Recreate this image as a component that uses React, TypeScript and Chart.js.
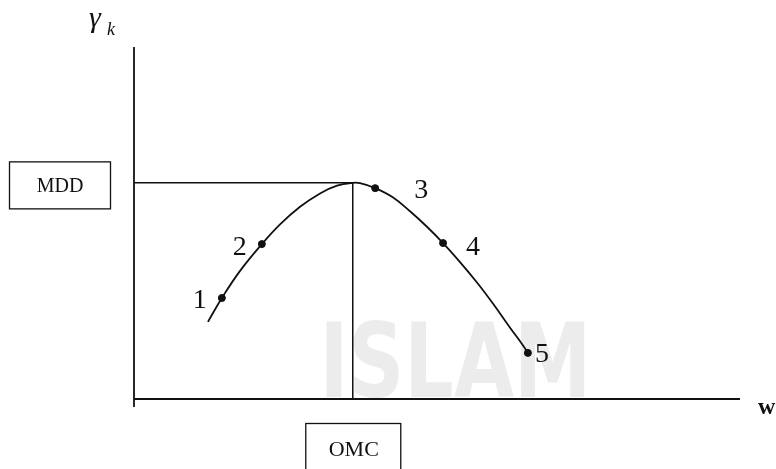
import React, { useEffect, useRef } from "react";
import { Chart, registerables } from "chart.js";

Chart.register(...registerables);

// ---- data (arbitrary units: w on x, dry density on y) ----
const curveW = [12.2, 14.5, 17.5, 21.1, 24.1, 27.4, 30.7, 33.5, 36.1, 37.3, 39.8, 42.7, 45.5, 48.3, 51.0, 53.8, 56.6, 59.2, 62.0, 64.2, 65.0];
const curveGamma = [21.9, 28.7, 36.4, 44.0, 49.6, 54.6, 58.4, 60.6, 61.4, 61.3, 59.9, 57.3, 53.4, 49.0, 44.3, 38.9, 33.1, 27.2, 20.4, 15.2, 13.1];

const sampleLabels = ["1", "2", "3", "4", "5"];
const sampleW = [14.5, 21.1, 39.8, 51.0, 65.0];
const sampleGamma = [28.7, 44.0, 59.9, 44.3, 13.1];

const OMC = 36.1;
const MDD = 61.4;

const X_MIN = 0;
const X_MAX = 100;
const Y_MIN = 0;
const Y_MAX = 100;
const Y_AXIS_BELOW = -2.3;

// label offsets in px (style, not data)
const labelOffsets: [number, number][] = [
  [-22, 1],
  [-22, 1],
  [46, 0],
  [30, 2],
  [14, 0],
];

const SERIF = "'Liberation Serif', 'DejaVu Serif', serif";
const INK = "#111111";

export default function App() {
  const canvasRef = useRef<HTMLCanvasElement | null>(null);

  useEffect(() => {
    const canvas = canvasRef.current;
    if (!canvas) return;

    const annotate = {
      id: "annotate",
      beforeDatasetsDraw(chart: any) {
        const ctx = chart.ctx as CanvasRenderingContext2D;
        // faint watermark
        ctx.save();
        ctx.fillStyle = "rgba(205,205,205,0.38)";
        ctx.font = "bold 130px 'DejaVu Sans', sans-serif";
        ctx.textBaseline = "alphabetic";
        const text = "ISLAM";
        const w = ctx.measureText(text).width;
        const targetW = 272;
        const xs = chart.scales.x;
        const left = xs.getPixelForValue(30.6);
        ctx.translate(left, 397);
        ctx.scale(targetW / w, 0.8);
        ctx.fillText(text, 0, 0);
        ctx.restore();
      },
      afterDraw(chart: any) {
        const ctx = chart.ctx as CanvasRenderingContext2D;
        const xs = chart.scales.x;
        const ys = chart.scales.y;
        const x0 = xs.getPixelForValue(0);
        const y0 = ys.getPixelForValue(0);
        const xOmc = xs.getPixelForValue(OMC);
        const yMdd = ys.getPixelForValue(MDD);

        ctx.save();
        ctx.strokeStyle = INK;
        ctx.fillStyle = INK;
        ctx.lineWidth = 1.3;

        // MDD box
        const bw = 101, bh = 47;
        const bx = x0 - 24 - bw;
        const by = yMdd + 2 - bh / 2;
        ctx.strokeRect(bx + 0.5, by + 0.5, bw, bh);
        ctx.font = `20px ${SERIF}`;
        ctx.textAlign = "center";
        ctx.textBaseline = "alphabetic";
        ctx.fillText("MDD", bx + bw / 2 + 0.5, by + bh / 2 + 7);

        // OMC box
        const ow = 95, oh = 60;
        const ox = xOmc - ow / 2;
        const oy = y0 + 24;
        ctx.strokeRect(ox + 0.5, oy + 0.5, ow, oh);
        ctx.font = `22px ${SERIF}`;
        ctx.fillText("OMC", xOmc + 1, oy + 33);

        // point labels
        ctx.font = `28px ${SERIF}`;
        sampleLabels.forEach((lab, i) => {
          const px = xs.getPixelForValue(sampleW[i]) + labelOffsets[i][0];
          const py = ys.getPixelForValue(sampleGamma[i]) + labelOffsets[i][1];
          ctx.fillText(lab, px, py + 9.5);
        });

        // axis titles
        ctx.textAlign = "left";
        ctx.font = `italic 30px ${SERIF}`;
        ctx.fillText("\u03B3", 89, 27);
        ctx.font = `italic 18px ${SERIF}`;
        ctx.fillText("k", 107, 35);
        ctx.font = `bold 24px ${SERIF}`;
        ctx.fillText("w", 758, 414);
        ctx.restore();
      },
    };

    const chart = new Chart(canvas, {
      type: "scatter",
      data: {
        datasets: [
          {
            type: "line",
            label: "y-axis",
            data: [
              { x: X_MIN, y: Y_AXIS_BELOW },
              { x: X_MIN, y: Y_MAX },
            ],
            borderColor: INK,
            borderWidth: 1.8,
            pointRadius: 0,
            clip: false as any,
          },
          {
            type: "line",
            label: "x-axis",
            data: [
              { x: X_MIN, y: Y_MIN },
              { x: X_MAX, y: Y_MIN },
            ],
            borderColor: INK,
            borderWidth: 1.8,
            pointRadius: 0,
            clip: false as any,
          },
          {
            type: "line",
            label: "MDD guide",
            data: [
              { x: X_MIN, y: MDD },
              { x: OMC, y: MDD },
            ],
            borderColor: INK,
            borderWidth: 1.5,
            pointRadius: 0,
          },
          {
            type: "line",
            label: "OMC guide",
            data: [
              { x: OMC, y: MDD },
              { x: OMC, y: Y_MIN },
            ],
            borderColor: INK,
            borderWidth: 1.5,
            pointRadius: 0,
          },
          {
            type: "line",
            label: "compaction curve",
            data: curveW.map((w, i) => ({ x: w, y: curveGamma[i] })),
            borderColor: INK,
            borderWidth: 1.8,
            pointRadius: 0,
            tension: 0.4,
          },
          {
            type: "scatter",
            label: "samples",
            data: sampleW.map((w, i) => ({ x: w, y: sampleGamma[i] })),
            backgroundColor: INK,
            borderColor: INK,
            pointRadius: 3.5,
          },
        ],
      },
      options: {
        animation: false,
        responsive: false,
        events: [],
        layout: { padding: { left: 134, right: 36, top: 47, bottom: 70 } },
        plugins: {
          legend: { display: false },
          tooltip: { enabled: false },
          title: { display: false },
        },
        scales: {
          x: { type: "linear", min: X_MIN, max: X_MAX, display: false },
          y: { type: "linear", min: Y_MIN, max: Y_MAX, display: false },
        },
      },
      plugins: [annotate],
    });

    return () => chart.destroy();
  }, []);

  return (
    <div style={{ position: "absolute", left: 0, top: 0, width: 776, height: 469, background: "#ffffff" }}>
      <canvas ref={canvasRef} width={776} height={469} style={{ display: "block" }} />
    </div>
  );
}
